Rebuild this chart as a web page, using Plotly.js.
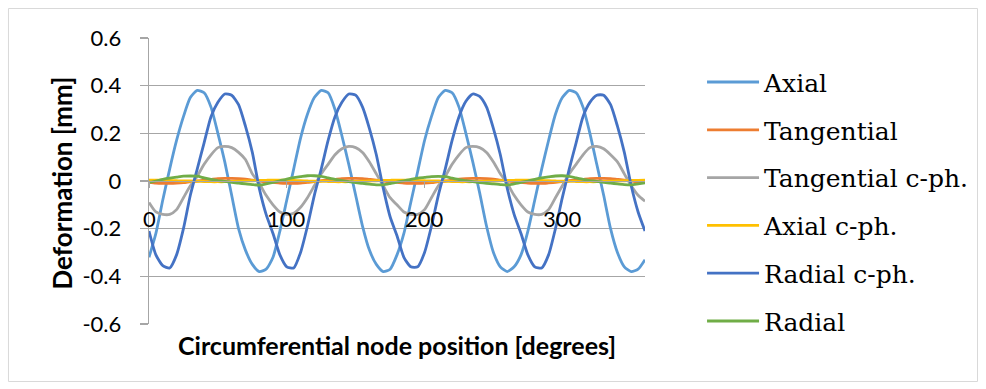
<!DOCTYPE html>
<html>
<head>
<meta charset="utf-8">
<script src="https://cdn.plot.ly/plotly-3.0.1.min.js"></script>
<style>
html,body{margin:0;padding:0;background:#fff;}
#chart{width:986px;height:389px;}
</style>
</head>
<body>
<div id="chart"></div>
<script>
// Circumferential node position [degrees]
const degrees = [0,5,10,15,20,25,30,35,40,45,50,55,60,65,70,75,80,85,
  90,95,100,105,110,115,120,125,130,135,140,145,150,155,160,165,170,175,
  180,185,190,195,200,205,210,215,220,225,230,235,240,245,250,255,260,265,
  270,275,280,285,290,295,300,305,310,315,320,325,330,335,340,345,350,355,360];

const seriesNames = ["Axial","Tangential","Tangential c-ph.","Axial c-ph.","Radial c-ph.","Radial"];
const seriesColors = ["#5B9BD5","#ED7D31","#A5A5A5","#FFC000","#4472C4","#70AD47"];

const axial = [
  -0.32,-0.22,-0.08,0.05,0.17,0.27,0.35,0.38,0.37,0.31,0.20,0.08,-0.06,-0.20,-0.29,-0.35,-0.38,-0.37,
  -0.32,-0.21,-0.08,0.05,0.18,0.28,0.35,0.38,0.37,0.30,0.19,0.07,-0.06,-0.19,-0.29,-0.35,-0.38,-0.37,
  -0.31,-0.22,-0.09,0.04,0.17,0.27,0.35,0.38,0.37,0.31,0.20,0.08,-0.05,-0.19,-0.30,-0.36,-0.38,-0.36,
  -0.31,-0.21,-0.08,0.05,0.17,0.28,0.35,0.38,0.37,0.31,0.20,0.07,-0.06,-0.20,-0.30,-0.36,-0.38,-0.37,
  -0.33];

const tangential = [
  -0.006,-0.009,-0.010,-0.010,-0.009,-0.007,-0.003,0.000,0.004,0.007,0.010,0.011,0.011,0.010,0.008,0.004,0.000,-0.003,
  -0.006,-0.009,-0.010,-0.010,-0.009,-0.006,-0.003,0.001,0.004,0.007,0.010,0.011,0.011,0.010,0.007,0.004,0.000,-0.003,
  -0.006,-0.009,-0.010,-0.010,-0.009,-0.007,-0.003,0.000,0.004,0.008,0.010,0.011,0.011,0.010,0.008,0.004,0.000,-0.003,
  -0.006,-0.009,-0.010,-0.010,-0.008,-0.006,-0.003,0.001,0.004,0.007,0.010,0.011,0.011,0.010,0.007,0.004,0.000,-0.003,
  -0.006];

const tangentialCph = [
  -0.09,-0.13,-0.14,-0.14,-0.12,-0.07,-0.02,0.02,0.07,0.11,0.14,0.145,0.14,0.12,0.09,0.03,-0.01,-0.06,
  -0.10,-0.13,-0.14,-0.135,-0.11,-0.07,-0.02,0.03,0.07,0.11,0.135,0.145,0.14,0.12,0.08,0.03,-0.02,-0.07,
  -0.10,-0.13,-0.14,-0.14,-0.12,-0.07,-0.02,0.02,0.07,0.11,0.14,0.145,0.14,0.12,0.08,0.03,-0.01,-0.06,
  -0.10,-0.13,-0.14,-0.14,-0.12,-0.07,-0.02,0.03,0.07,0.11,0.14,0.145,0.135,0.11,0.08,0.03,-0.02,-0.06,
  -0.085];

const axialCph = [
  0.004,0.004,0.003,0.002,0.001,0.000,0.000,-0.001,-0.002,-0.003,-0.003,-0.003,-0.002,-0.001,0.000,0.001,0.002,0.003,
  0.004,0.004,0.003,0.002,0.001,0.000,-0.001,-0.001,-0.002,-0.003,-0.003,-0.003,-0.002,-0.001,0.000,0.001,0.002,0.003,
  0.004,0.004,0.003,0.002,0.001,0.000,0.000,-0.001,-0.002,-0.003,-0.003,-0.003,-0.002,-0.001,0.000,0.001,0.002,0.003,
  0.004,0.004,0.003,0.002,0.001,0.000,-0.001,-0.001,-0.002,-0.003,-0.003,-0.003,-0.002,-0.001,0.000,0.001,0.002,0.003,
  0.004];

const radialCph = [
  -0.21,-0.31,-0.355,-0.365,-0.31,-0.20,-0.06,0.05,0.16,0.27,0.33,0.365,0.36,0.32,0.23,0.12,-0.03,-0.14,
  -0.22,-0.31,-0.36,-0.365,-0.30,-0.19,-0.06,0.05,0.17,0.27,0.33,0.365,0.36,0.31,0.22,0.11,-0.03,-0.15,
  -0.23,-0.32,-0.36,-0.36,-0.30,-0.19,-0.06,0.05,0.17,0.27,0.335,0.365,0.355,0.31,0.22,0.11,-0.03,-0.14,
  -0.22,-0.31,-0.36,-0.365,-0.31,-0.20,-0.07,0.05,0.16,0.27,0.33,0.36,0.36,0.32,0.23,0.12,-0.02,-0.13,
  -0.21];

const radial = [
  -0.006,0.000,0.007,0.012,0.016,0.020,0.021,0.020,0.013,0.007,0.002,-0.002,-0.006,-0.009,-0.012,-0.015,-0.017,-0.012,
  -0.006,0.001,0.008,0.014,0.018,0.022,0.022,0.019,0.013,0.007,0.002,-0.003,-0.007,-0.010,-0.013,-0.016,-0.016,-0.011,
  -0.005,0.001,0.007,0.012,0.015,0.018,0.019,0.018,0.012,0.006,0.001,-0.003,-0.007,-0.010,-0.012,-0.015,-0.017,-0.012,
  -0.006,0.000,0.007,0.013,0.017,0.021,0.022,0.019,0.013,0.007,0.002,-0.002,-0.006,-0.009,-0.012,-0.015,-0.016,-0.012,
  -0.008];

const yTickVals = [-0.6,-0.4,-0.2,0,0.2,0.4,0.6];
const yTickText = ["-0.6","-0.4","-0.2","0","0.2","0.4","0.6"];
const xTickVals = [0,100,200,300];
const xTickText = ["0","100","200","300"];
const xTitle = "Circumferential node position [degrees]";
const yTitle = "Deformation [mm]";

const seriesValues = [axial, tangential, tangentialCph, axialCph, radialCph, radial];

const traces = seriesValues.map((vals, i) => ({
  x: degrees,
  y: vals,
  type: "scatter",
  mode: "lines",
  name: seriesNames[i],
  legendgroup: "g" + i,
  line: {color: seriesColors[i], width: 2.8, shape: "spline", smoothing: 0.6},
  hoverinfo: "skip"
}));

const gridCol = "#A6A6A6";
const tickFont = {family: "Lato, sans-serif", size: 22, color: "#000"};

// x tick labels placed just below the axis that crosses at y = 0
const xTickAnnotations = xTickVals.map((v, i) => ({
  text: xTickText[i], xref: "x", yref: "y", x: v, y: 0,
  xanchor: "center", yanchor: "top", yshift: -22, showarrow: false,
  font: tickFont
}));

const layout = {
  width: 986,
  height: 389,
  margin: {l: 149, r: 341, t: 38, b: 65, pad: 0},
  paper_bgcolor: "#ffffff",
  plot_bgcolor: "#ffffff",
  showlegend: true,
  xaxis: {
    range: [0, 360],
    tickvals: xTickVals,
    ticktext: xTickText,
    showticklabels: false,
    anchor: "free",
    position: 0.5,
    showgrid: false,
    zeroline: false,
    showline: true,
    linecolor: gridCol,
    linewidth: 1.3,
    ticks: "outside",
    ticklen: 6,
    tickwidth: 1.3,
    tickcolor: gridCol,
    fixedrange: true
  },
  yaxis: {
    range: [-0.6, 0.6],
    tickvals: yTickVals,
    ticktext: yTickText,
    showgrid: true,
    gridcolor: gridCol,
    gridwidth: 1.3,
    zeroline: false,
    showline: true,
    linecolor: gridCol,
    linewidth: 1.3,
    ticks: "outside",
    ticklen: 8,
    tickwidth: 1.3,
    tickcolor: gridCol,
    ticklabelstandoff: 14,
    tickfont: tickFont,
    fixedrange: true
  },
  legend: {
    x: 1.115,
    xanchor: "left",
    y: 0.9257,
    yanchor: "top",
    font: {family: "DejaVu Serif", size: 25, color: "#000"},
    bgcolor: "rgba(0,0,0,0)",
    tracegroupgap: 12.3,
    itemwidth: 52,
    traceorder: "grouped"
  },
  annotations: [
    {
      text: xTitle, xref: "paper", yref: "paper", x: 0.499, y: -0.073,
      xanchor: "center", yanchor: "middle", showarrow: false,
      font: {family: "Lato, sans-serif", size: 25, color: "#000", weight: "bold"}
    },
    {
      text: yTitle, xref: "paper", yref: "paper", x: -0.1744, y: 0.493,
      xanchor: "center", yanchor: "middle", showarrow: false, textangle: -90,
      font: {family: "Lato, sans-serif", size: 26, color: "#000", weight: "bold"}
    }
  ].concat(xTickAnnotations),
  shapes: [
    {type: "rect", xref: "paper", yref: "paper", x0: -0.2833, x1: 1.6704, y0: -0.201, y1: 1.1031,
     line: {color: "#D9D9D9", width: 1}, fillcolor: "rgba(0,0,0,0)", layer: "below"}
  ]
};

Plotly.newPlot("chart", traces, layout, {displayModeBar: false, staticPlot: true});
</script>
</body>
</html>
